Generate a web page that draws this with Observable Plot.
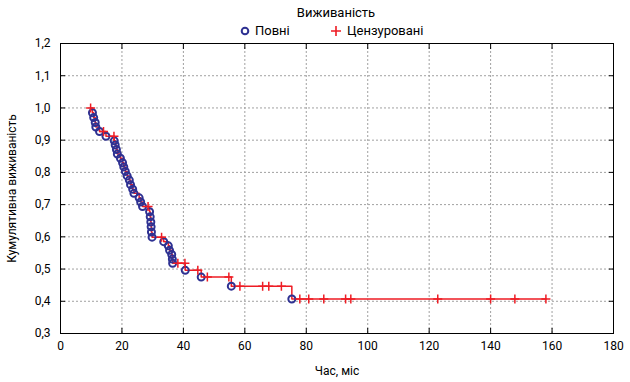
<!DOCTYPE html>
<html>
<head>
<meta charset="utf-8">
<script src="https://cdn.jsdelivr.net/npm/d3@7"></script>
<script src="https://cdn.jsdelivr.net/npm/@observablehq/plot@0.6"></script>
<style>
  html, body { margin: 0; padding: 0; background: #fff; }
  #wrap { width: 630px; height: 382px; position: relative; font-family: Roboto, "Liberation Sans", sans-serif; color: #000; }
  #legend { position: relative; height: 36px; font-size: 13px; }
  #legend .t { position: absolute; top: 5px; left: 336px; transform: translateX(-50%); white-space: nowrap; }
  #legend .item { position: absolute; top: 23px; white-space: nowrap; display: flex; align-items: center; }
  #legend svg { margin-right: 5px; }
</style>
</head>
<body>
<div id="wrap">
  <div id="legend"></div>
  <div id="chart"></div>
</div>
<script>
// --- data ---
const legendTitle = "Виживаність";
const typeLabels = ["Повні", "Цензуровані"];
const xTicks = [0, 20, 40, 60, 80, 100, 120, 140, 160, 180];
const yTicks = [0.3, 0.4, 0.5, 0.6, 0.7, 0.8, 0.9, 1.0, 1.1, 1.2];
const xLabel = "Час, міс";
const yLabel = "Кумулятивна виживаність";

// time (months), survival, type: 1 = complete (Повні), 0 = censored (Цензуровані)
const eventTime = [9.8, 10.4, 10.8, 11.3, 11.5, 12.7, 14.0, 14.8, 17.4, 17.5, 17.8, 18.2, 18.5, 19.5, 20.2, 20.6, 21.1, 21.7, 22.4, 22.8, 23.5, 23.9, 25.6, 26.1, 26.7, 28.5, 29.0, 29.2, 29.4, 29.5, 29.6, 29.8, 32.9, 33.6, 35.1, 35.5, 36.2, 36.4, 36.5, 38.2, 40.5, 40.6, 44.7, 45.8, 47.8, 54.8, 55.6, 58.4, 65.8, 67.8, 71.9, 75.3, 77.9, 80.8, 85.7, 92.8, 94.5, 122.8, 140.0, 147.9, 158.0];
const eventSurv = [1.000, 0.985, 0.970, 0.955, 0.941, 0.927, 0.927, 0.912, 0.912, 0.898, 0.885, 0.871, 0.857, 0.844, 0.830, 0.817, 0.803, 0.789, 0.776, 0.762, 0.748, 0.735, 0.721, 0.708, 0.694, 0.694, 0.678, 0.662, 0.646, 0.631, 0.615, 0.599, 0.599, 0.585, 0.572, 0.558, 0.545, 0.531, 0.518, 0.518, 0.518, 0.496, 0.496, 0.475, 0.475, 0.475, 0.447, 0.447, 0.447, 0.447, 0.447, 0.407, 0.407, 0.407, 0.407, 0.407, 0.407, 0.407, 0.407, 0.407, 0.407];
const eventType = [0, 1, 1, 1, 1, 1, 0, 1, 0, 1, 1, 1, 1, 1, 1, 1, 1, 1, 1, 1, 1, 1, 1, 1, 1, 0, 1, 1, 1, 1, 1, 1, 0, 1, 1, 1, 1, 1, 1, 0, 0, 1, 0, 1, 0, 0, 1, 0, 0, 0, 0, 1, 0, 0, 0, 0, 0, 0, 0, 0, 0];

const colorLine = "#ee1c24";
const colorDot = "#2e3192";

const rows = eventTime.map((t, i) => ({t, s: eventSurv[i], type: eventType[i]}));

const plusSymbol = {
  draw(context, size) {
    const r = Math.sqrt(size / Math.PI);
    context.moveTo(-r, 0); context.lineTo(r, 0);
    context.moveTo(0, -r); context.lineTo(0, r);
  }
};

// legend
const legend = document.getElementById("legend");
legend.innerHTML = `
  <div class="t">${legendTitle}</div>
  <div class="item" style="left:240px"><svg width="10" height="10"><circle cx="5" cy="5" r="3.3" fill="none" stroke="${colorDot}" stroke-width="2"/></svg>${typeLabels[0]}</div>
  <div class="item" style="left:330px"><svg width="12" height="12"><path d="M1,6H11M6,1V11" stroke="${colorLine}" stroke-width="1.6"/></svg>${typeLabels[1]}</div>`;

const fmt = d => d.toFixed(1).replace(".", ",");

const chart = Plot.plot({
  width: 630,
  height: 346,
  marginTop: 7,
  marginBottom: 49,
  marginLeft: 60,
  marginRight: 17,
  style: {fontFamily: "Roboto, 'Liberation Sans', sans-serif", fontSize: "12px", overflow: "visible", background: "#fff"},
  x: {domain: [0, 180]},
  y: {domain: [0.3, 1.2]},
  marks: [
    Plot.gridX(xTicks, {stroke: "#a0a0a0", strokeOpacity: 1, strokeDasharray: "2,2"}),
    Plot.gridY(yTicks, {stroke: "#a0a0a0", strokeOpacity: 1, strokeDasharray: "2,2"}),
    Plot.line(rows, {x: "t", y: "s", curve: "step-after", stroke: colorLine, strokeWidth: 1.5}),
    Plot.dot(rows.filter(d => d.type === 1), {x: "t", y: "s", r: 3.5, stroke: colorDot, strokeWidth: 2, fill: "none"}),
    Plot.dot(rows.filter(d => d.type === 0), {x: "t", y: "s", r: 4.5, symbol: plusSymbol, stroke: colorLine, strokeWidth: 1.5, fill: "none"}),
    Plot.frame({stroke: "#000"}),
    Plot.axisX(xTicks, {tickSize: -5, tickPadding: 13, label: xLabel, labelAnchor: "center", labelArrow: "none", labelOffset: 41}),
    Plot.axisX(xTicks, {anchor: "top", tickSize: -5, tickFormat: () => "", label: null}),
    Plot.axisY(yTicks, {tickSize: -5, tickPadding: 15, tickFormat: fmt, label: yLabel, labelAnchor: "center", labelArrow: "none", labelOffset: 53}),
    Plot.axisY(yTicks, {anchor: "right", tickSize: -5, tickFormat: () => "", label: null})
  ]
});
document.getElementById("chart").appendChild(chart);
</script>
</body>
</html>
